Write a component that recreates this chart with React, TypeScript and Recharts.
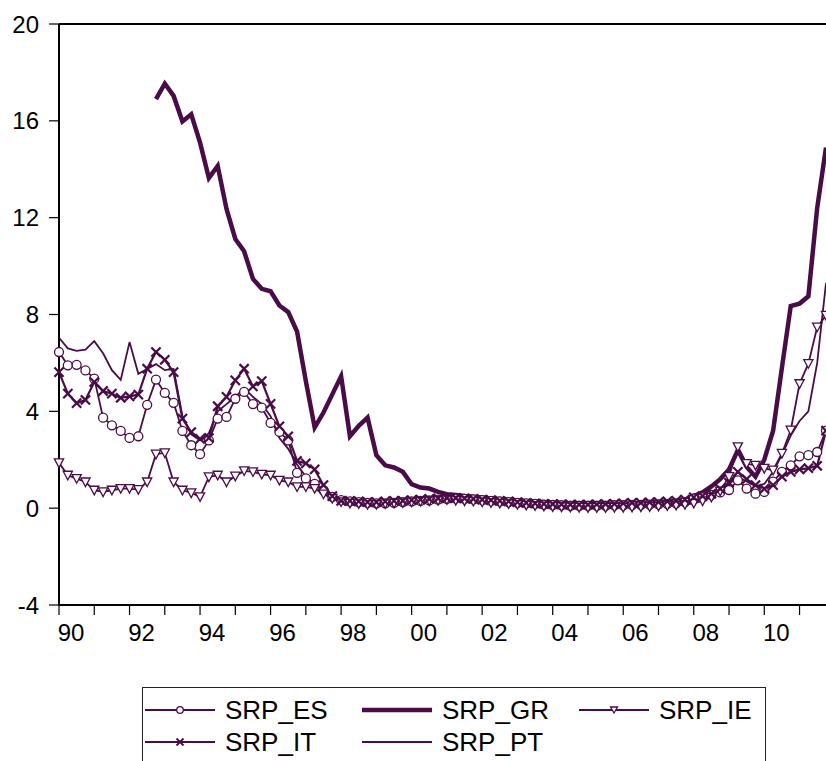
import React from "react";
import { LineChart, Line, XAxis, YAxis, ReferenceLine } from "recharts";

const COLOR = "#4a0c46";
const FONT = "'Liberation Sans', Arial, Helvetica, sans-serif";

// quarterly observations 1990Q1 .. 2011Q4
const QUARTERS: string[] = [];
for (let y = 1990; y <= 2011; y++) for (let q = 1; q <= 4; q++) QUARTERS.push(`${y}Q${q}`);

const YEAR_TICKS = [0, 4, 8, 12, 16, 20, 24, 28, 32, 36, 40, 44, 48, 52, 56, 60, 64, 68, 72, 76, 80, 84];
const Y_TICKS = [-4, 0, 4, 8, 12, 16, 20];

const SRP_ES = [
  6.45, 5.9, 5.92, 5.69, 5.35, 3.74, 3.42, 3.19, 2.9, 2.97, 4.27, 5.31, 4.76, 4.35, 3.19, 2.6, 2.23, 2.8, 3.7, 3.77,
  4.52, 4.8, 4.3, 4.15, 3.52, 3.15, 2.8, 1.46, 1.23, 1.0, 0.74, 0.47, 0.33,
  0.28, 0.25, 0.22, 0.2, 0.2, 0.22, 0.25, 0.28, 0.3, 0.32, 0.35, 0.38, 0.4, 0.38, 0.36, 0.33, 0.3, 0.28, 0.25, 0.22,
  0.2, 0.18, 0.15, 0.13, 0.12, 0.1, 0.1, 0.1, 0.1, 0.1, 0.12, 0.12, 0.13, 0.14, 0.15, 0.16, 0.18, 0.2, 0.25,
  0.4, 0.45, 0.55, 0.65, 0.75, 1.15, 0.81, 0.6, 0.67, 1.1, 1.5, 1.77, 2.14, 2.19, 2.32, 3.2,
];

const SRP_GR = [
  null, null, null, null, null, null, null, null, null, null, null,
  16.9, 17.54, 17.03, 15.97, 16.27, 15.1, 13.64, 14.14, 12.36, 11.12, 10.61, 9.47, 9.06, 8.96, 8.37, 8.1, 7.3,
  5.25, 3.33, 3.95, 4.7, 5.45,
  2.97, 3.4, 3.74, 2.19, 1.77, 1.68, 1.5, 0.99, 0.85, 0.81, 0.67, 0.58, 0.54, 0.5, 0.47, 0.44, 0.4, 0.38, 0.35, 0.32,
  0.3, 0.28, 0.25, 0.22, 0.2, 0.2, 0.2, 0.18, 0.18, 0.17, 0.17, 0.18, 0.2, 0.22, 0.24, 0.26, 0.28, 0.3, 0.35,
  0.5, 0.65, 0.9, 1.2, 1.6, 2.4, 1.7, 1.3, 2.0, 3.2, 5.8, 8.35, 8.45, 8.75, 12.4, 14.9,
];

const SRP_IE = [
  1.87, 1.36, 1.22, 1.08, 0.74, 0.67, 0.74, 0.81, 0.81, 0.77, 1.08, 2.23, 2.28, 1.08, 0.74, 0.63, 0.47, 1.29, 1.36,
  1.08, 1.32, 1.54, 1.5, 1.4, 1.36, 1.15, 1.08, 0.88, 0.88, 0.81, 0.58, 0.4, 0.26,
  0.2, 0.18, 0.15, 0.15, 0.18, 0.2, 0.22, 0.25, 0.28, 0.3, 0.32, 0.35, 0.32, 0.3, 0.28, 0.25, 0.22, 0.2, 0.18, 0.15,
  0.12, 0.1, 0.08, 0.06, 0.05, 0.04, 0.03, 0.02, 0.02, 0.02, 0.03, 0.03, 0.04, 0.05, 0.06, 0.08, 0.1, 0.12, 0.15,
  0.2, 0.3, 0.45, 0.7, 1.3, 2.53, 1.84, 1.77, 1.64, 1.57, 2.26, 3.22, 5.14, 5.97, 7.48, 7.96,
];

const SRP_IT = [
  5.62, 4.73, 4.34, 4.47, 5.21, 4.84, 4.73, 4.56, 4.62, 4.69, 5.76, 6.45, 6.13, 5.62, 3.7, 3.14, 2.86, 2.9, 4.21,
  4.6, 5.28, 5.76, 5.03, 5.25, 4.31, 3.38, 2.97, 1.95, 1.85, 1.6, 0.95, 0.5, 0.3,
  0.3, 0.28, 0.25, 0.25, 0.28, 0.3, 0.3, 0.33, 0.35, 0.38, 0.4, 0.42, 0.42, 0.4, 0.38, 0.35, 0.33, 0.3, 0.28, 0.25,
  0.22, 0.2, 0.18, 0.17, 0.16, 0.15, 0.15, 0.15, 0.16, 0.17, 0.18, 0.2, 0.22, 0.22, 0.24, 0.25, 0.28, 0.3, 0.35,
  0.45, 0.5, 0.6, 0.8, 1.05, 1.5, 1.2, 0.95, 0.8, 0.95, 1.3, 1.5, 1.6, 1.65, 1.75, 3.2,
];

const SRP_PT = [
  7.04, 6.6, 6.5, 6.55, 6.9, 6.4, 5.7, 5.3, 6.86, 5.55, 5.75, 5.95, 5.7, 5.75, 3.8, 3.05, 2.8, 3.1, 4.0, 4.3, 4.6,
  4.95, 4.6, 4.3, 3.8, 2.9, 2.45, 1.8, 1.3, 1.0, 0.7, 0.45, 0.3,
  0.3, 0.28, 0.25, 0.25, 0.27, 0.3, 0.3, 0.32, 0.34, 0.36, 0.38, 0.4, 0.4, 0.38, 0.36, 0.34, 0.32, 0.3, 0.28, 0.26,
  0.24, 0.22, 0.2, 0.18, 0.16, 0.15, 0.15, 0.15, 0.15, 0.16, 0.17, 0.18, 0.2, 0.21, 0.22, 0.24, 0.26, 0.28, 0.32,
  0.4, 0.5, 0.6, 0.8, 1.0, 1.3, 1.1, 0.9, 1.0, 1.5, 2.2, 3.0, 3.6, 4.0, 6.0, 9.3,
];

const data = QUARTERS.map((q, i) => ({
  i,
  q,
  ES: SRP_ES[i],
  GR: SRP_GR[i],
  IE: SRP_IE[i],
  IT: SRP_IT[i],
  PT: SRP_PT[i],
}));

const CircleDot = (props: any) => {
  const { cx, cy, value, index } = props;
  if (value == null || cx == null) return <g key={index} />;
  return <circle key={index} cx={cx} cy={cy} r={4.5} fill="#fff" stroke={COLOR} strokeWidth={1.3} />;
};

const TriangleDot = (props: any) => {
  const { cx, cy, value, index } = props;
  if (value == null || cx == null) return <g key={index} />;
  const pts = `${cx - 4.6},${cy - 4} ${cx + 4.6},${cy - 4} ${cx},${cy + 4.6}`;
  return <polygon key={index} points={pts} fill="#fff" stroke={COLOR} strokeWidth={1.3} />;
};

const CrossDot = (props: any) => {
  const { cx, cy, value, index } = props;
  if (value == null || cx == null) return <g key={index} />;
  const s = 4.6;
  return (
    <g key={index} stroke={COLOR} strokeWidth={2.2}>
      <line x1={cx - s} y1={cy - s} x2={cx + s} y2={cy + s} />
      <line x1={cx - s} y1={cy + s} x2={cx + s} y2={cy - s} />
    </g>
  );
};

const YearTick = (props: any) => {
  const { x, y, payload } = props;
  const year = 1990 + payload.value / 4;
  if (year % 2 !== 0) return <g />;
  const label = String(year % 100).padStart(2, "0");
  return (
    <text x={x + 12} y={y + 24} textAnchor="middle" fontSize={24} fontFamily={FONT} fill="#000">
      {label}
    </text>
  );
};

const LegendItem = ({ x, y, name, marker, thick }: any) => (
  <div style={{ position: "absolute", left: x, top: y, height: 30, display: "flex", alignItems: "center" }}>
    <svg width={74} height={30}>
      <line x1={2} y1={15} x2={72} y2={15} stroke={COLOR} strokeWidth={thick ? 4.5 : 1.8} />
      {marker === "circle" && <circle cx={37} cy={15} r={3.3} fill="#fff" stroke={COLOR} strokeWidth={1.3} />}
      {marker === "triangle" && (
        <polygon points="33.5,12 40.5,12 37,18" fill="#fff" stroke={COLOR} strokeWidth={1.3} />
      )}
      {marker === "cross" && (
        <g stroke={COLOR} strokeWidth={1.8}>
          <line x1={33.5} y1={11.5} x2={40.5} y2={18.5} />
          <line x1={33.5} y1={18.5} x2={40.5} y2={11.5} />
        </g>
      )}
    </svg>
    <span style={{ marginLeft: 8, fontSize: 26, fontFamily: FONT, color: "#000" }}>{name}</span>
  </div>
);

export default function App() {
  return (
    <div
      style={{
        position: "absolute",
        left: 0,
        top: 0,
        width: 826,
        height: 761,
        overflow: "hidden",
        background: "#fff",
      }}
    >
      <LineChart width={826} height={761} data={data} margin={{ top: 24, right: 0, left: 0, bottom: 0 }}>
        <XAxis
          dataKey="i"
          type="number"
          domain={[0, 87]}
          ticks={YEAR_TICKS}
          interval={0}
          height={156}
          tickSize={10}
          tick={<YearTick />}
          axisLine={{ stroke: "#000", strokeWidth: 2 }}
          tickLine={{ stroke: "#000", strokeWidth: 1.2 }}
        />
        <YAxis
          domain={[-4, 20]}
          ticks={Y_TICKS}
          interval={0}
          width={59}
          tickSize={10}
          tickMargin={10}
          tick={{ fontSize: 24, fontFamily: FONT, fill: "#000" }}
          axisLine={{ stroke: "#000", strokeWidth: 2 }}
          tickLine={{ stroke: "#000", strokeWidth: 1.2 }}
          allowDataOverflow
        />
        <ReferenceLine y={20} stroke="#000" strokeWidth={2} />
        <Line
          dataKey="ES"
          stroke={COLOR}
          strokeWidth={1.8}
          dot={CircleDot}
          isAnimationActive={false}
        />
        <Line
          dataKey="GR"
          stroke={COLOR}
          strokeWidth={4.5}
          dot={false}
          connectNulls={false}
          isAnimationActive={false}
        />
        <Line
          dataKey="IE"
          stroke={COLOR}
          strokeWidth={1.8}
          dot={TriangleDot}
          isAnimationActive={false}
        />
        <Line
          dataKey="IT"
          stroke={COLOR}
          strokeWidth={2.2}
          dot={CrossDot}
          isAnimationActive={false}
        />
        <Line
          dataKey="PT"
          stroke={COLOR}
          strokeWidth={1.8}
          dot={false}
          isAnimationActive={false}
        />
      </LineChart>
      <div
        style={{
          position: "absolute",
          left: 142,
          top: 687,
          width: 622,
          height: 100,
          border: "1.5px solid #222",
          background: "#fff",
        }}
      >
        <LegendItem x={0} y={7} name="SRP_ES" marker="circle" />
        <LegendItem x={217} y={7} name="SRP_GR" thick />
        <LegendItem x={434} y={7} name="SRP_IE" marker="triangle" />
        <LegendItem x={0} y={39} name="SRP_IT" marker="cross" />
        <LegendItem x={217} y={39} name="SRP_PT" />
      </div>
    </div>
  );
}
